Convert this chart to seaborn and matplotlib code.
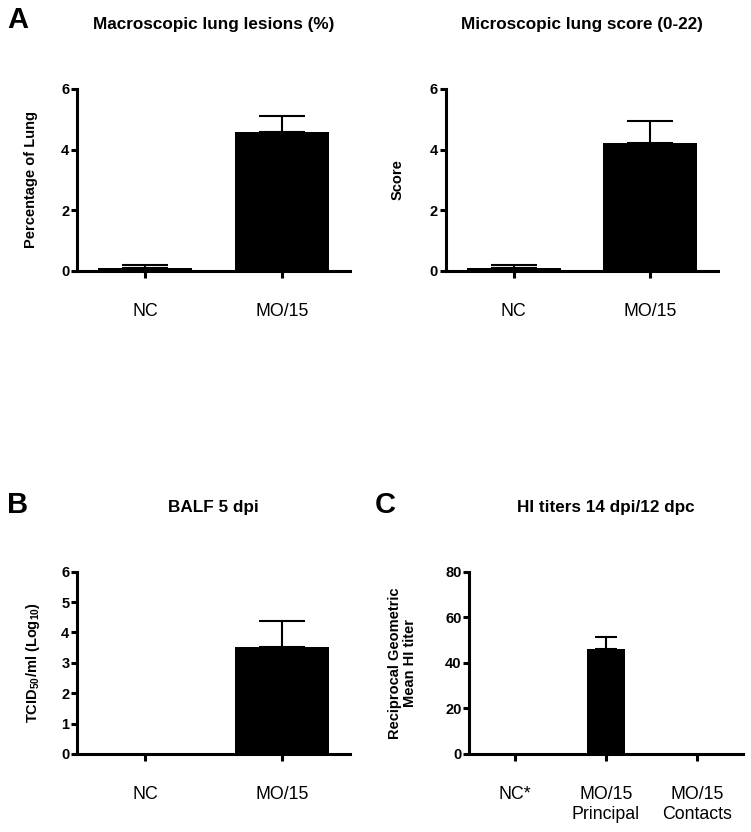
import numpy as np
import pandas as pd
import seaborn as sns
import matplotlib.pyplot as plt

# values (mean, upper SEM end)
lung_groups = ["NC", "MO/15"]
macro_mean = [0.1, 4.58]
macro_err = [0.1, 0.52]
micro_mean = [0.1, 4.21]
micro_err = [0.1, 0.74]
balf_mean = [0.0, 3.52]
balf_err = [0.0, 0.87]
hi_groups = ["NC*", "MO/15\nPrincipal", "MO/15\nContacts"]
hi_mean = [0.0, 46.1, 0.0]
hi_err = [0.0, 5.1, 0.0]

sns.set_style("ticks")
plt.rcParams["font.family"] = ["Liberation Sans", "DejaVu Sans"]
plt.rcParams["mathtext.fontset"] = "custom"
plt.rcParams["mathtext.rm"] = "Liberation Sans:bold"
plt.rcParams["mathtext.bf"] = "Liberation Sans:bold"
plt.rcParams["mathtext.default"] = "bf"
plt.rcParams["text.color"] = "black"
plt.rcParams["axes.labelcolor"] = "black"
plt.rcParams["xtick.color"] = "black"
plt.rcParams["ytick.color"] = "black"
plt.rcParams["axes.edgecolor"] = "black"

fig = plt.figure(figsize=(7.51, 8.32), dpi=100)


def panel(rect, groups, mean, err, ymax, ystep, width, cap, ylabel, ylab_x):
    ax = fig.add_axes(rect)
    df = pd.DataFrame({"group": groups, "value": mean})
    sns.barplot(data=df, x="group", y="value", color="black", width=width,
                saturation=1, errorbar=None, linewidth=0, ax=ax)
    pos = np.arange(len(groups))
    err = np.asarray(err)
    keep = err > 0
    ax.errorbar(pos[keep], np.asarray(mean)[keep],
                yerr=[np.zeros(keep.sum()), err[keep]], fmt="none",
                ecolor="black", elinewidth=1.5, capsize=cap, capthick=1.5,
                clip_on=False)
    ax.set_xlim(-0.5, len(groups) - 0.5)
    ax.set_ylim(0, ymax)
    ax.set_yticks(np.arange(0, ymax + ystep / 2, ystep))
    sns.despine(ax=ax)
    for s in ["left", "bottom"]:
        ax.spines[s].set_linewidth(2.2)
    ax.tick_params(axis="y", width=2.2, length=4.5, labelsize=10.5, pad=1)
    ax.tick_params(axis="x", width=2.2, length=5, labelsize=12.8, pad=18)
    for t in ax.get_yticklabels():
        t.set_fontweight("bold")
    ax.set_xlabel("")
    ax.set_ylabel(ylabel, fontsize=10.5, fontweight="bold", linespacing=1.05)
    ax.yaxis.set_label_coords(ylab_x, 0.5)
    return ax


ax1 = panel([0.1025, 0.6743, 0.3635, 0.2188], lung_groups, macro_mean, macro_err,
            6, 2, 0.69, 16.5, "Percentage of Lung", -0.143)
ax2 = panel([0.5935, 0.6743, 0.3626, 0.2188], lung_groups, micro_mean, micro_err,
            6, 2, 0.69, 16.5, "Score", -0.152)
ax3 = panel([0.1025, 0.0938, 0.3635, 0.2191], lung_groups, balf_mean, balf_err,
            6, 1, 0.69, 16.5, r"TCID$_{50}$/ml (Log$_{10}$)", -0.129)
ax4 = panel([0.6249, 0.0938, 0.3640, 0.2191], hi_groups, hi_mean, hi_err,
            80, 20, 0.42, 7.6, "Reciprocal Geometric\nMean HI titer", -0.192)

titles = [(ax1, "Macroscopic lung lesions (%)", 0.970),
          (ax2, "Microscopic lung score (0-22)", 0.970),
          (ax3, "BALF 5 dpi", 0.3906),
          (ax4, "HI titers 14 dpi/12 dpc", 0.3906)]
for ax, t, y in titles:
    b = ax.get_position()
    fig.text((b.x0 + b.x1) / 2, y, t, ha="center", va="center",
             fontsize=12.3, fontweight="bold")

fig.text(0.024, 0.976, "A", ha="center", va="center", fontsize=21, fontweight="bold")
fig.text(0.024, 0.393, "B", ha="center", va="center", fontsize=21, fontweight="bold")
fig.text(0.513, 0.393, "C", ha="center", va="center", fontsize=21, fontweight="bold")

fig.savefig("out.png", dpi=100, facecolor="white")
